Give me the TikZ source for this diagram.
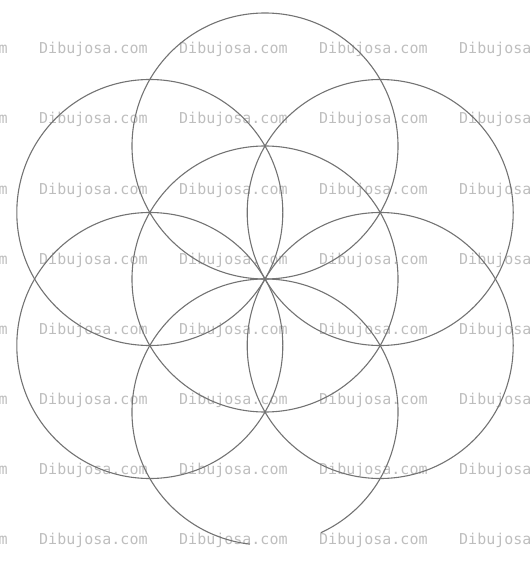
\documentclass[tikz,border=0pt]{standalone}
\usepackage{fontspec}
\newfontfamily\markfont{DejaVu Sans Mono}
\usetikzlibrary{positioning}
\definecolor{markgray}{RGB}{190,190,190}
\definecolor{ringgray}{RGB}{115,115,115}
\tikzset{
    watermark/.style={anchor=base west, inner sep=0pt, text=markgray, font=\markfont\fontsize{15}{15}\selectfont},
    ring/.style={draw=ringgray, line width=1.1pt}
}

\begin{document}
\begin{tikzpicture}[x=1pt, y=-1pt]
        \useasboundingbox (0,0) rectangle (530,561);
        % Watermark grid
        \foreach \r/\y in {1/54, 2/124, 3/194, 4/264, 5/334, 6/404, 7/474, 8/544} {
            \foreach \c/\x in {0/-101, 1/39, 2/179, 3/319, 4/459} {
                \node[watermark] (wm-\r-\c) at (\x,\y) {Dibujosa.com};
            }
        }
        % Centre circle
        \coordinate (mid) at (265,279);
        \draw[ring] (mid) circle (133pt);
        % Petal circles
        \foreach \n/\x/\y in {top/265/146, ul/149.8/212.5, ur/380.2/212.5, ll/149.8/345.5, lr/380.2/345.5} {
            \coordinate (c-\n) at (\x,\y);
            \draw[ring] (c-\n) circle (133pt);
        }
        % Bottom circle, left open
        \coordinate (c-bot) at (265,412);
        \draw[ring] (c-bot) ++(-65.2:133pt) arc[start angle=-65.2, end angle=263.5, radius=133pt];
\end{tikzpicture}
\end{document}
